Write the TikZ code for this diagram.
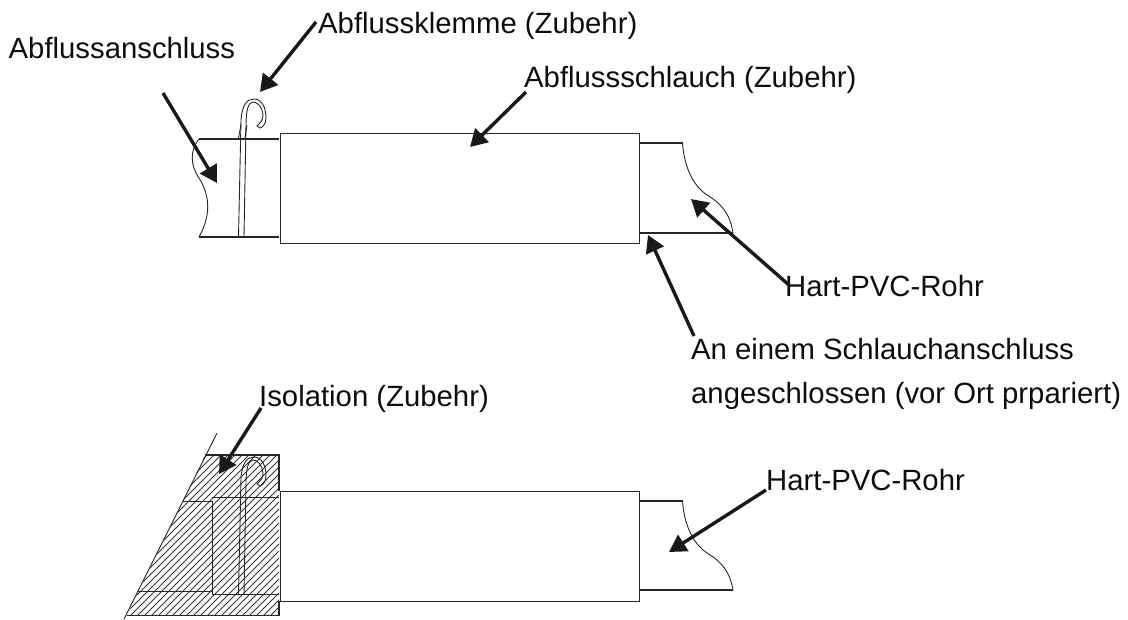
\documentclass[tikz,border=0pt]{standalone}
\usepackage{fontspec}
\setmainfont{Liberation Sans}
\usetikzlibrary{arrows.meta}
\tikzset{
  x=1pt,y=-1pt,
  lbl/.style={inner sep=0pt,anchor=base west,font=\fontsize{29.3}{36}\selectfont,text=black!95},
  outline/.style={line width=1.1pt,draw=black!85},
  thin outline/.style={line width=0.9pt,draw=black!85},
  pointer/.style={line width=3.4pt,draw=black!90,-{Triangle[length=17pt,width=19pt,fill=black!90]},shorten >=0pt},
  hatchline/.style={line width=0.8pt,draw=black!80}
}
\begin{document}
\begin{tikzpicture}
\useasboundingbox (0,0) rectangle (1128,619);
% labels
\node[lbl] (anschluss) at (8.5,58) {Abflussanschluss};
\node[lbl] (klemme) at (318,33) {Abflussklemme (Zubehr)};
\node[lbl] (schlauch) at (524,87) {Abflussschlauch (Zubehr)};
\node[lbl] (pvca) at (785,296) {Hart-PVC-Rohr};
\node[lbl] (ort1) at (691,359) {An einem Schlauchanschluss};
\node[lbl] (ort2) at (691,403) {angeschlossen (vor Ort prpariert)};
\node[lbl] (iso) at (259,406) {Isolation (Zubehr)};
\node[lbl] (pvcb) at (766,490) {Hart-PVC-Rohr};
% upper drawing
\draw[outline] (199,139) -- (279,139) (199,237) -- (279,237);
\draw[thin outline] (199,139) .. controls (190,150) and (190,165) .. (199,178) .. controls (208,192) and (213,212) .. (199,237);
\node[draw=black!85,line width=1.1pt,minimum width=359pt,minimum height=110pt,inner sep=0pt,anchor=north west] (hose) at (279.5,133) {};
\draw[outline] (639,143) -- (682.5,143) (639,233) -- (733,233);
\draw[thin outline] (682.5,143) .. controls (684,165) and (692,185) .. (707,195) .. controls (722,204) and (730,214) .. (733,233);
\draw[thin outline] (238.5,237) -- (241,120) .. controls (242,105) and (247,99) .. (254,99) .. controls (262,99) and (266,108) .. (266,118) .. controls (266,124) and (262,128) .. (260,128) -- (257,126) .. controls (261,122) and (263,120) .. (263,115) .. controls (262,106) and (257,102) .. (253,102) .. controls (248,102) and (246,112) .. (246,125) -- (244,237);
\draw[thin outline] (238.5,138) -- (241,125) (245,138) -- (247,125);
% lower drawing
\begin{scope}
\clip (205,455) -- (279,455) -- (279,615.5) -- (127,615.5) -- cycle;
\foreach \i in {0,...,40} {\draw[hatchline] (30+7*\i,625) -- (30+7*\i+180,445);}
\end{scope}
\draw[outline] (205,455) -- (279,455) -- (279,491) (279,601) -- (279,615.5) -- (127,615.5);
\draw[thin outline] (217,433) -- (124,619);
\draw[thin outline] (183,501) -- (212,501) -- (212,594) (138,591) -- (212,591);
\draw[thin outline] (212,497) -- (279,497) (212,594) -- (279,594);
\node[draw=black!85,line width=1.1pt,minimum width=359pt,minimum height=110pt,inner sep=0pt,anchor=north west] (hoseb) at (279.5,491) {};
\draw[outline] (639,501) -- (682.5,501) (639,590) -- (733,590);
\draw[thin outline] (682.5,501) .. controls (684,523) and (692,543) .. (707,553) .. controls (722,562) and (730,572) .. (733,590);
\draw[thin outline] (238.5,594) -- (241,478) .. controls (242,463) and (247,457) .. (254,457) .. controls (262,457) and (266,466) .. (266,476) .. controls (266,482) and (262,486) .. (260,486) -- (257,484) .. controls (261,480) and (263,478) .. (263,473) .. controls (262,464) and (257,460) .. (253,460) .. controls (248,460) and (246,470) .. (246,483) -- (244,594);
% pointers
\coordinate (p1a) at (163,93); \coordinate (p1b) at (217,183);
\coordinate (p2a) at (316,22); \coordinate (p2b) at (260,92);
\coordinate (p3a) at (526,92); \coordinate (p3b) at (470,147);
\coordinate (p4a) at (789,285); \coordinate (p4b) at (691,199);
\coordinate (p5a) at (694,336); \coordinate (p5b) at (648,235);
\coordinate (p6a) at (261,408); \coordinate (p6b) at (219,474);
\coordinate (p7a) at (766,490); \coordinate (p7b) at (669,552);
\foreach \a/\b in {p1a/p1b,p2a/p2b,p3a/p3b,p4a/p4b,p5a/p5b,p6a/p6b,p7a/p7b}
  \draw[pointer] (\a) -- (\b);
\end{tikzpicture}
\end{document}
